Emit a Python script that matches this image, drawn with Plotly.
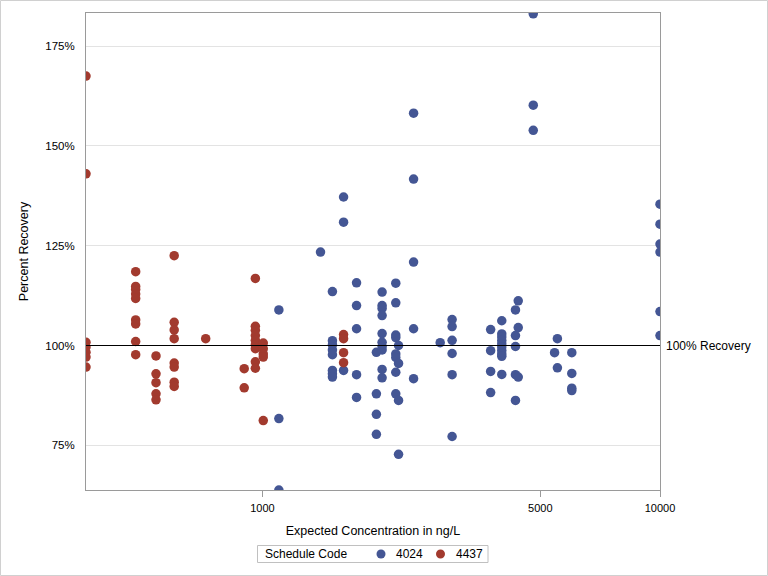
import math
import plotly.graph_objects as go

# ---- data ----
conc_4024 = [1100, 1100, 1100,
             1400,
             1500, 1500, 1500, 1500, 1500, 1500, 1500, 1500,
             1600, 1600, 1600,
             1725, 1725, 1725, 1725, 1725,
             1935, 1935, 1935, 1935,
             2000, 2000, 2000, 2000, 2000, 2000, 2000, 2000, 2000, 2000,
             2165, 2165, 2165, 2165, 2165, 2165, 2165, 2165,
             2200, 2200, 2200, 2200,
             2400, 2400, 2400, 2400, 2400,
             2800,
             3000, 3000, 3000, 3000, 3000, 3000,
             3750, 3750, 3750, 3750,
             4000, 4000, 4000, 4000, 4000, 4000, 4000, 4000, 4000, 4000,
             4330, 4330, 4330, 4330, 4330,
             4400, 4400, 4400,
             4800, 4800, 4800,
             5430,
             5520, 5520,
             6000, 6000, 6000, 6000,
             10000, 10000, 10000, 10000, 10000, 10000]
rec_4024 = [108.9, 81.7, 63.8,
            123.4,
            113.5, 101.2, 100.2, 98.9, 97.7, 93.75, 92.9, 92.1,
            137.2, 130.9, 93.75,
            115.7, 110.0, 104.2, 92.7, 87.0,
            98.3, 87.9, 82.75, 77.75,
            113.4, 110.0, 109.3, 107.5, 103.0, 100.8, 99.75, 98.9, 94.0, 91.9,
            115.6, 110.7, 102.6, 102.0, 97.9, 97.0, 93.3, 87.9,
            100.0, 95.5, 86.25, 72.75,
            158.2, 141.7, 120.9, 104.2, 91.7,
            100.7,
            106.5, 104.75, 101.3, 98.0, 92.7, 77.2,
            104.0, 98.7, 93.5, 88.2,
            106.2, 102.9, 102.1, 101.25, 100.4, 99.6, 98.75, 97.9, 97.3, 92.75,
            108.9, 102.5, 99.75, 92.7, 86.25,
            111.2, 104.5, 92.1,
            183.1, 160.2, 153.9,
            98.2,
            101.7, 94.4,
            98.2, 93.0, 89.3, 88.7,
            135.4, 130.4, 125.4, 123.4, 108.5, 102.5]

conc_4437 = [360, 360, 360, 360, 360, 360, 360,
             480, 480, 480, 480, 480, 480, 480, 480, 480,
             540, 540, 540, 540, 540,
             600, 600, 600, 600, 600, 600, 600, 600,
             720,
             900, 900,
             960, 960, 960, 960, 960, 960, 960, 960, 960,
             1005, 1005, 1005, 1005, 1005,
             1600, 1600, 1600, 1600]
rec_4437 = [167.5, 143.0, 100.8, 99.6, 98.3, 97.1, 94.6,
            118.5, 114.8, 114.0, 112.9, 111.8, 106.4, 105.4, 101.0, 97.7,
            97.4, 92.9, 90.7, 87.9, 86.4,
            122.5, 105.8, 103.9, 101.7, 95.6, 94.6, 90.8, 89.75,
            101.7,
            94.2, 89.4,
            116.8, 104.8, 103.8, 102.5, 101.3, 100.2, 99.2, 95.9, 94.3,
            100.6, 99.2, 97.9, 97.1, 81.2,
            102.75, 101.7, 98.2, 95.7]

series_names = ["4024", "4437"]
x_ticks = [1000, 5000, 10000]
y_ticks = [75, 100, 125, 150, 175]
x_min, x_max = 360, 10000
y_min, y_max = 63.8, 183.3
ref_value = 100

BLUE = "#445694"
RED = "#A23A2E"
FONT = "Liberation Sans, Arial, sans-serif"

fig = go.Figure()
fig.add_trace(go.Scatter(x=conc_4024, y=rec_4024, mode="markers", name=series_names[0],
                         showlegend=False,
                         marker=dict(color=BLUE, size=9.5, line=dict(width=0))))
fig.add_trace(go.Scatter(x=conc_4437, y=rec_4437, mode="markers", name=series_names[1],
                         showlegend=False,
                         marker=dict(color=RED, size=9.5, line=dict(width=0))))

# reference line
fig.add_shape(type="line", xref="paper", x0=0, x1=1, yref="y", y0=ref_value, y1=ref_value,
              line=dict(color="black", width=1))
fig.add_annotation(xref="paper", x=1, yref="y", y=ref_value, text="100% Recovery",
                   showarrow=False, xanchor="left", xshift=4,
                   font=dict(family=FONT, size=12, color="black"))

# geometry helpers (pixels -> paper)
L, R, T, B = 86, 108, 13, 86
W, H = 768, 576
pw, ph = W - L - R, H - T - B


def px(x):
    return (x - L) / pw


def py(y):
    return (H - B - y) / ph


# outer border of the image
fig.add_shape(type="rect", xref="paper", yref="paper",
              x0=px(0.5), x1=px(W - 0.5), y0=py(H - 0.5), y1=py(0.5),
              line=dict(color="#d0d0d0", width=1), fillcolor="rgba(0,0,0,0)", layer="below")

# legend box (drawn by hand to match the compact original legend)
fig.add_shape(type="rect", xref="paper", yref="paper",
              x0=px(257.5), x1=px(488), y0=py(562.5), y1=py(545.5),
              line=dict(color="#c0c0c0", width=1), fillcolor="white")
fig.add_annotation(xref="paper", yref="paper", x=px(263), y=py(554), text="Schedule Code",
                   showarrow=False, xanchor="left", yanchor="middle",
                   font=dict(family=FONT, size=12, color="black"))
for cx, tx, col, name in [(381, 394, BLUE, series_names[0]), (440.5, 453.5, RED, series_names[1])]:
    fig.add_shape(type="circle", xref="paper", yref="paper",
                  xsizemode="pixel", ysizemode="pixel",
                  xanchor=px(cx), yanchor=py(554), x0=-4.5, x1=4.5, y0=-4.5, y1=4.5,
                  line=dict(width=0), fillcolor=col)
    fig.add_annotation(xref="paper", yref="paper", x=px(tx), y=py(554), text=name,
                       showarrow=False, xanchor="left", yanchor="middle",
                       font=dict(family=FONT, size=12, color="black"))

fig.update_layout(
    width=W, height=H,
    margin=dict(l=L, r=R, t=T, b=B),
    paper_bgcolor="white", plot_bgcolor="white",
    font=dict(family=FONT, size=11, color="black"),
    showlegend=False,
    xaxis=dict(type="log", range=[math.log10(x_min), math.log10(x_max)],
               tickvals=x_ticks, ticktext=[str(v) for v in x_ticks],
               ticks="outside", ticklen=6, tickcolor="#9a9a9a",
               ticklabelstandoff=2,
               showgrid=False, zeroline=False,
               showline=True, mirror=True, linecolor="#9a9a9a", linewidth=1,
               tickfont=dict(size=11, color="black"),
               title=dict(text="Expected Concentration in ng/L", standoff=13,
                          font=dict(size=12.5, color="black"))),
    yaxis=dict(range=[y_min, y_max], tickvals=y_ticks,
               ticktext=[f"{v}%" for v in y_ticks],
               ticks="", showgrid=True, gridcolor="#e3e3e3", gridwidth=1,
               zeroline=False, showline=True, mirror=True, linecolor="#9a9a9a", linewidth=1,
               ticklabelstandoff=8,
               tickfont=dict(size=11.5, color="black"),
               title=dict(text="Percent Recovery", standoff=13,
                          font=dict(size=12.5, color="black"))),
)

fig.write_html("out.html", config={"displayModeBar": False},
               post_script="document.body.style.margin='0';document.body.style.overflow='hidden';")
